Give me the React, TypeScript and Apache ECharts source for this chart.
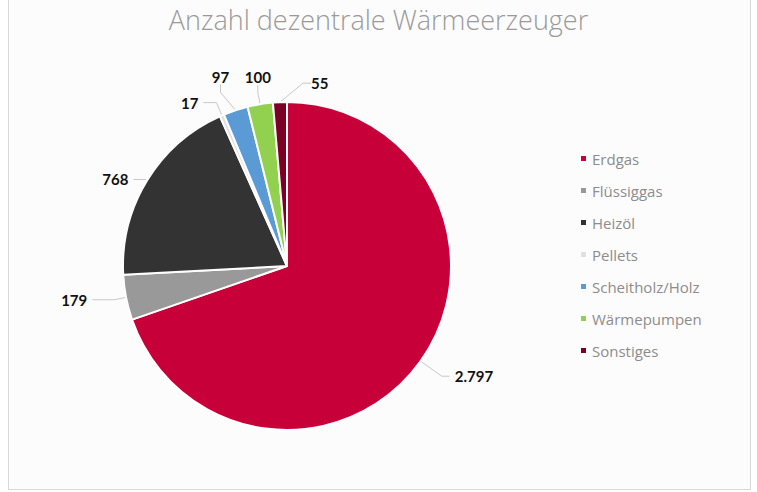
import { useEffect, useRef } from 'react';
import * as echarts from 'echarts';

const titleText = 'Anzahl dezentrale Wärmeerzeuger';
const categories = ['Erdgas', 'Flüssiggas', 'Heizöl', 'Pellets', 'Scheitholz/Holz', 'Wärmepumpen', 'Sonstiges'];
const values = [2797, 179, 768, 17, 97, 100, 55];
const colors = ['#c8003a', '#999999', '#333333', '#e0e0e0', '#5b9bd5', '#92d050', '#7b0026'];

// label line lengths per slice [length, length2]
const lineLengths: number[][] = [[26, 8], [12, 22], [2, 12], [14, 13], [14, 8], [14, 8], [14, 8]];
// small nudges for the crowded labels at the top [dx, dy]
const labelNudge: (number[] | null)[] = [null, null, null, null, [11, -20], [26, -13], [62, -5]];

export default function App() {
  const ref = useRef<HTMLDivElement>(null);

  useEffect(() => {
    if (!ref.current) return;
    const chart = echarts.init(ref.current, undefined, { renderer: 'svg' });
    chart.setOption({
      animation: false,
      title: {
        text: titleText,
        left: 'center',
        top: 1,
        textStyle: {
          fontFamily: 'Open Sans',
          fontWeight: 300,
          fontSize: 27,
          color: '#9a9a9a',
        },
      },
      legend: {
        orient: 'vertical',
        left: 574,
        top: 146,
        itemWidth: 7,
        itemHeight: 7,
        itemGap: 17,
        icon: 'rect',
        data: categories,
        textStyle: { fontFamily: 'Open Sans', fontSize: 15, color: '#8c8c8c' },
      },
      series: [
        {
          type: 'pie',
          center: [287, 266],
          radius: 164,
          startAngle: 90,
          avoidLabelOverlap: false,
          itemStyle: { borderColor: '#fdfdfd', borderWidth: 2 },
          label: {
            show: true,
            position: 'outside',
            formatter: (p: any) => p.value.toLocaleString('de-DE'),
            fontFamily: 'Lato',
            fontWeight: 'bold',
            fontSize: 15,
            color: '#111111',
          },
          labelLine: {
            show: true,
            lineStyle: { color: '#c8c8c8', width: 1 },
          },
          labelLayout: (params: any) => {
            const n = labelNudge[params.dataIndex];
            if (!n) return {};
            const r = params.labelRect;
            return {
              x: r.x + r.width / 2 + n[0],
              y: r.y + r.height / 2 + n[1],
              align: 'center',
              verticalAlign: 'middle',
            };
          },
          data: categories.map((name, i) => ({
            name,
            value: values[i],
            itemStyle: { color: colors[i] },
            labelLine: { length: lineLengths[i][0], length2: lineLengths[i][1] },
          })),
        },
      ],
    });
    return () => chart.dispose();
  }, []);

  return (
    <div style={{ position: 'fixed', left: 0, top: 0, width: 757, height: 492, background: '#ffffff' }}>
      <div
        style={{
          position: 'absolute',
          left: 8,
          top: -2,
          width: 741,
          height: 490,
          border: '1px solid #d9d9d9',
          background: '#fdfcfd',
        }}
      />
      <div ref={ref} style={{ position: 'absolute', left: 0, top: 0, width: 757, height: 492 }} />
    </div>
  );
}
